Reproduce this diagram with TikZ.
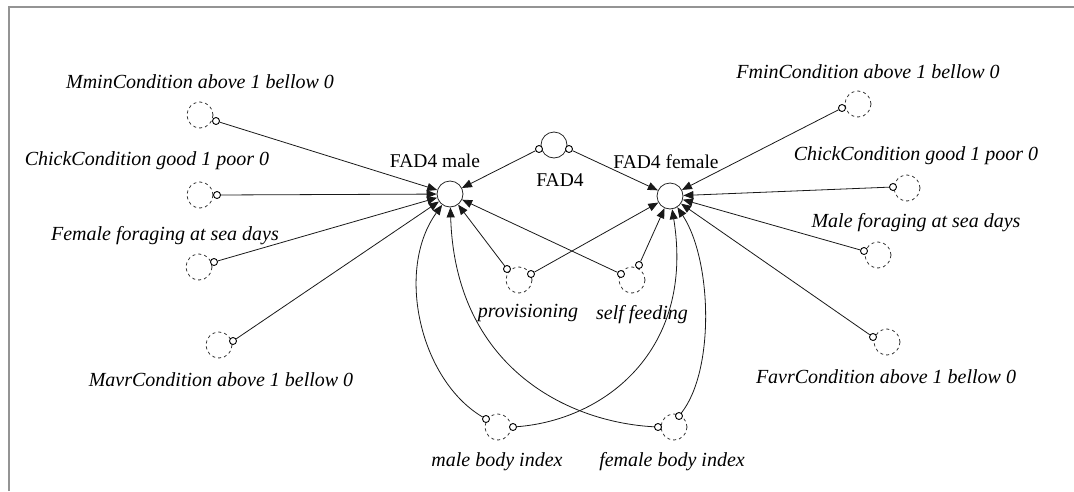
\documentclass[tikz,border=0pt]{standalone}
\usepackage{fontspec}
\setmainfont{Liberation Serif}
\usetikzlibrary{arrows.meta}
\tikzset{
  var/.style={circle,draw=black!85,line width=0.8pt,minimum size=26pt,inner sep=0pt},
  ghost/.style={circle,draw=black!80,line width=0.8pt,dash pattern=on 3pt off 3pt,minimum size=26pt,inner sep=0pt},
  pin/.style={circle,draw=black,line width=0.9pt,fill=white,minimum size=7pt,inner sep=0pt},
  lbl/.style={inner sep=0pt,font=\fontsize{20}{24}\selectfont\itshape},
  ulbl/.style={inner sep=0pt,font=\fontsize{19.5}{24}\selectfont},
  link/.style={draw=black!90,line width=0.8pt,-{Triangle[length=10pt,width=8pt]}},
  frame/.style={draw=black!42,line width=2pt}
}
\begin{document}
\begin{tikzpicture}[x=1pt,y=-1pt]
\useasboundingbox (0,0) rectangle (1074,491);
\draw[frame] (9,491) -- (9,7) -- (1074,7);

% main variables
\node[var] (male) at (450,194) {};
\node[var] (female) at (670,196) {};
\node[var] (fad) at (554,145) {};
\node[ulbl] (lmale) at (435,161) {FAD4 male};
\node[ulbl] (lfemale) at (666,162) {FAD4 female};
\node[ulbl] (lfad) at (560,180) {FAD4};

% ghost variables
\node[ghost] (gmmin) at (200,115) {};
\node[ghost] (gchl) at (200,195) {};
\node[ghost] (gffs) at (199,267) {};
\node[ghost] (gmavr) at (219,345) {};
\node[ghost] (gfmin) at (858,104) {};
\node[ghost] (gchr) at (907,188) {};
\node[ghost] (gmfs) at (878,255) {};
\node[ghost] (gfavr) at (887,342) {};
\node[ghost] (gprov) at (519,280) {};
\node[ghost] (gself) at (632,280) {};
\node[ghost] (gmbi) at (498,427) {};
\node[ghost] (gfbi) at (674,427) {};

% labels
\node[lbl] (tmmin) at (200,82) {MminCondition above 1 bellow 0};
\node[lbl] (tchl) at (147,161) {ChickCondition good 1 poor 0};
\node[lbl] (tffs) at (165,236) {Female foraging at sea days};
\node[lbl] (tmavr) at (221,380) {MavrCondition above 1 bellow 0};
\node[lbl] (tfmin) at (868,72) {FminCondition above 1 bellow 0};
\node[lbl] (tchr) at (916,156) {ChickCondition good 1 poor 0};
\node[lbl] (tmfs) at (916,223) {Male foraging at sea days};
\node[lbl] (tfavr) at (886,377) {FavrCondition above 1 bellow 0};
\node[lbl] (tprov) at (528,313) {provisioning};
\node[lbl] (tself) at (642,315) {self feeding};
\node[lbl] (tmbi) at (497,462) {male body index};
\node[lbl] (tfbi) at (672,462) {female body index};

% pins
\node[pin] (pfadl) at (539,149) {};
\node[pin] (pfadr) at (569,149) {};
\node[pin] (pmmin) at (216,121) {};
\node[pin] (pchl) at (217,195) {};
\node[pin] (pffs) at (214,262) {};
\node[pin] (pmavr) at (233,341) {};
\node[pin] (pfmin) at (842,108) {};
\node[pin] (pchr) at (893,187) {};
\node[pin] (pmfs) at (864,251) {};
\node[pin] (pfavr) at (873,337) {};
\node[pin] (pprovl) at (507,269) {};
\node[pin] (pprovr) at (531,274) {};
\node[pin] (pselfl) at (621,274) {};
\node[pin] (pselfr) at (639,265) {};
\node[pin] (pmbil) at (486,419) {};
\node[pin] (pmbir) at (513,427) {};
\node[pin] (pfbil) at (658,427) {};
\node[pin] (pfbir) at (679,416) {};

% straight links
\draw[link] (pfadl) -- (male);
\draw[link] (pfadr) -- (female);
\draw[link] (pmmin) -- (male);
\draw[link] (pchl) -- (male);
\draw[link] (pffs) -- (male);
\draw[link] (pmavr) -- (male);
\draw[link] (pfmin) -- (female);
\draw[link] (pchr) -- (female);
\draw[link] (pmfs) -- (female);
\draw[link] (pfavr) -- (female);
\draw[link] (pprovl) -- (male);
\draw[link] (pprovr) -- (female);
\draw[link] (pselfl) -- (male);
\draw[link] (pselfr) -- (female);

% curved links
\draw[link] (pmbil) .. controls (420,380) and (395,270) .. (male);
\draw[link] (pfbil) .. controls (565,422) and (455,365) .. (male);
\draw[link] (pmbir) .. controls (605,420) and (695,350) .. (female);
\draw[link] (pfbir) .. controls (715,370) and (712,260) .. (female);
\end{tikzpicture}
\end{document}
